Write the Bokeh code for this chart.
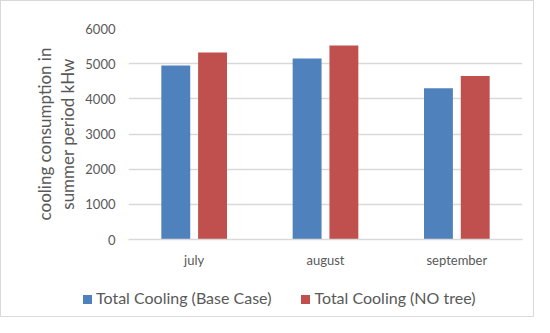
from bokeh.plotting import figure
from bokeh.layouts import column
from bokeh.models import ColumnDataSource, FixedTicker, LinearAxis, Div
from bokeh.transform import dodge
from bokeh.embed import file_html
from bokeh.resources import INLINE

months = ["july", "august", "september"]
base_case = [4950, 5150, 4300]
no_tree = [5320, 5520, 4650]
y_ticks = [0, 1000, 2000, 3000, 4000, 5000, 6000]
series_names = ["Total Cooling (Base Case)", "Total Cooling (NO tree)"]
y_title = ["cooling consumption in", "summer period kHw"]
colors = ["#4F81BD", "#C0504D"]

src = ColumnDataSource(data=dict(month=months, base=base_case, notree=no_tree))

p = figure(x_range=months, y_range=(0, 6000), width=532, height=276,
           output_backend="svg", toolbar_location=None,
           min_border_left=127, min_border_right=11, min_border_top=27,
           min_border_bottom=38)
p.x_range.range_padding = 0

p.vbar(x=dodge("month", -0.14, range=p.x_range), top="base", width=0.22,
       source=src, fill_color=colors[0], line_color=None)
p.vbar(x=dodge("month", 0.14, range=p.x_range), top="notree", width=0.22,
       source=src, fill_color=colors[1], line_color=None)

p.outline_line_color = None
p.xgrid.grid_line_color = None
p.ygrid.grid_line_color = "#d9d9d9"
p.ygrid.grid_line_width = 1.3
p.yaxis.ticker = FixedTicker(ticks=y_ticks)
p.yaxis.axis_line_color = None
p.yaxis.major_tick_line_color = None
p.yaxis.minor_tick_line_color = None
p.yaxis.major_label_text_font = "Lato"
p.yaxis.major_label_text_font_size = "13px"
p.yaxis.major_label_text_color = "#595959"
p.yaxis.major_label_standoff = 7
p.yaxis.axis_label = y_title[1]
p.yaxis.axis_label_text_font = "Lato"
p.yaxis.axis_label_text_font_style = "normal"
p.yaxis.axis_label_text_font_size = "17px"
p.yaxis.axis_label_text_color = "#595959"
p.yaxis.axis_label_standoff = 4

ax2 = LinearAxis(axis_label=y_title[0], ticker=FixedTicker(ticks=[]),
                 axis_line_color=None, major_tick_line_color=None,
                 minor_tick_line_color=None, major_label_text_font_size="0px",
                 axis_label_text_font="Lato", axis_label_text_font_style="normal",
                 axis_label_text_font_size="17px", axis_label_text_color="#595959",
                 axis_label_standoff=0)
p.add_layout(ax2, "left")

p.xaxis.axis_line_color = "#d9d9d9"
p.xaxis.axis_line_width = 1.3
p.xaxis.major_tick_line_color = None
p.xaxis.minor_tick_line_color = None
p.xaxis.major_label_text_font = "Lato"
p.xaxis.major_label_text_font_size = "13px"
p.xaxis.major_label_text_color = "#595959"
p.xaxis.major_label_standoff = 6

# legend strip below the chart
sq = "display:inline-block;width:9px;height:9px;background:{c};margin-left:{ml}px;margin-right:4px;"
legend_html = (
    '<div style="font-family:Lato;font-size:16px;color:#595959;padding-left:82px;'
    'padding-top:12px;line-height:18px;white-space:nowrap;">'
    f'<span style="{sq.format(c=colors[0], ml=0)}"></span>{series_names[0]}'
    f'<span style="{sq.format(c=colors[1], ml=30)}"></span>{series_names[1]}'
    '</div>'
)
legend_div = Div(text=legend_html, width=532, height=39, margin=0)

layout = column(p, legend_div, spacing=0, styles={"border": "1px solid #d9d9d9"})

open("out.html", "w").write(file_html(layout, INLINE))
